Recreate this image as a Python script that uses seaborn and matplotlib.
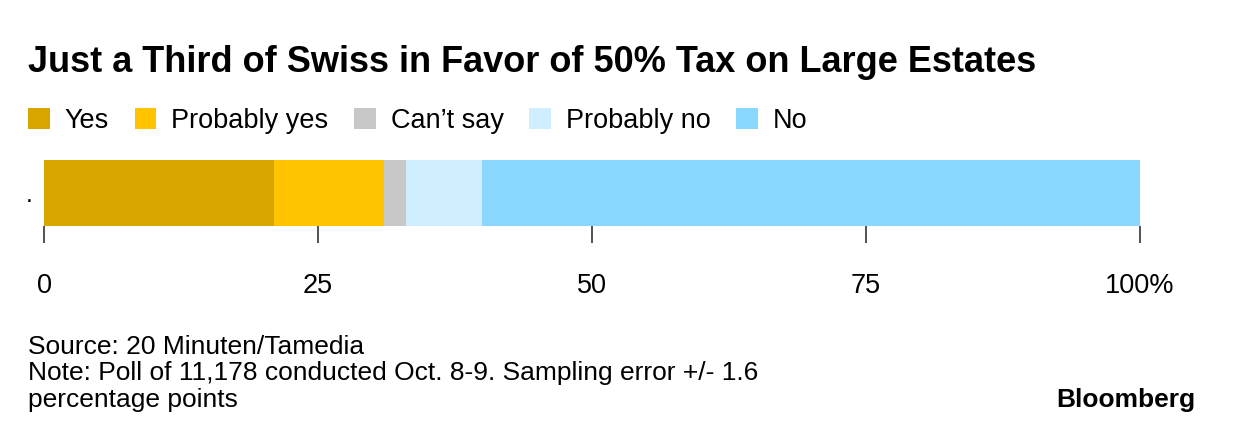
import numpy as np
import pandas as pd
import seaborn as sns
import matplotlib.pyplot as plt
from matplotlib.patches import Patch

categories = ['Yes', 'Probably yes', "Can\u2019t say", 'Probably no', 'No']
values = [21, 10, 2, 7, 60]
colors = ['#D9A600', '#FFC300', '#C8C8C8', '#CFEEFF', '#8AD7FF']
row_label = ['.']
ticks = [0, 25, 50, 75, 100]
tick_labels = ['0', '25', '50', '75', '100%']

sns.set_style('white')
plt.rcParams['font.family'] = ['Liberation Sans', 'DejaVu Sans']
plt.rcParams['text.color'] = 'black'

fig = plt.figure(figsize=(12.34, 4.44), dpi=100)
ax = fig.add_axes([44 / 1234, 1 - 226 / 444, 1096 / 1234, 66 / 444])

cum = np.cumsum(values)
df = pd.DataFrame({'cat': categories, 'cum': cum, 'row': row_label * len(categories)})

# draw largest cumulative first so the shorter bars sit on top
for i in range(len(categories) - 1, -1, -1):
    sns.barplot(data=df.iloc[[i]], x='cum', y='row', color=colors[i],
                width=1.0, orient='h', ax=ax, saturation=1, linewidth=0)

ax.set_xlim(0, 100)
ax.set_ylim(0.5, -0.5)
ax.set_xlabel('')
ax.set_ylabel('')
for s in ax.spines.values():
    s.set_visible(False)
ax.set_xticks(ticks)
ax.set_xticklabels(tick_labels, fontsize=19.5, color='black')
ax.tick_params(axis='x', direction='out', length=12, width=1.2, color='#333333',
               pad=22, bottom=True)
ax.tick_params(axis='y', length=0, labelsize=18, pad=8, labelcolor='black')

fig.text(28 / 1234, 1 - 62 / 444, 'Just a Third of Swiss in Favor of 50% Tax on Large Estates',
         fontsize=26, fontweight='bold', va='center', ha='left')

handles = [Patch(facecolor=c, edgecolor='none', label=l) for c, l in zip(colors, categories)]
fig.legend(handles=handles, loc='center left', bbox_to_anchor=(28 / 1234, 1 - 121 / 444),
           ncol=5, frameon=False, fontsize=19.5, handlelength=0.8, handleheight=0.8,
           handletextpad=0.55, columnspacing=0.95, borderaxespad=0, borderpad=0)

fig.text(28 / 1234, 1 - 347 / 444, 'Source: 20 Minuten/Tamedia', fontsize=19, va='center')
fig.text(28 / 1234, 1 - 373 / 444,
         'Note: Poll of 11,178 conducted Oct. 8-9. Sampling error +/- 1.6', fontsize=19, va='center')
fig.text(28 / 1234, 1 - 400 / 444, 'percentage points', fontsize=19, va='center')
fig.text(1195 / 1234, 1 - 400 / 444, 'Bloomberg', fontsize=19, fontweight='bold',
         va='center', ha='right')

fig.savefig('out.png', dpi=100)
